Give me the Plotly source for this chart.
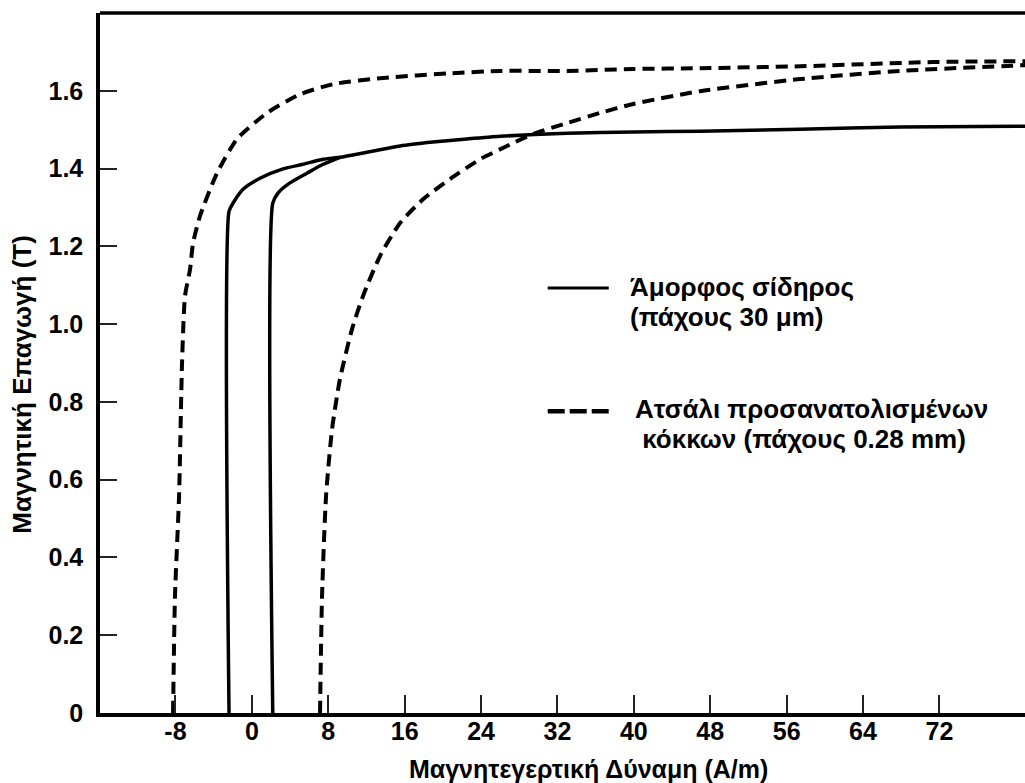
import plotly.graph_objects as go

# Amorphous iron (30 um): descending branch, shared saturation part, ascending branch
amorph_left_H = [-2.39, -2.39, -1.97, -0.92, 0.85, 3.27, 5.36, 7.46]
amorph_left_B = [0.0, 1.29, 1.311, 1.347, 1.375, 1.399, 1.411, 1.424]
amorph_sat_H = [9.23, 12.06, 15.52, 18.97, 22.53, 25.99, 33.01, 39.92, 46.93, 57.4, 67.87, 81.0]
amorph_sat_B = [1.429, 1.442, 1.458, 1.468, 1.476, 1.483, 1.491, 1.494, 1.496, 1.501, 1.507, 1.509]
amorph_right_H = [2.19, 2.19, 2.74, 3.99, 5.77, 7.46, 9.23]
amorph_right_B = [0.0, 1.311, 1.337, 1.363, 1.388, 1.411, 1.429]

# Grain-oriented steel (0.28 mm)
steel_left_H = [-8.25, -8.05, -7.62, -7.31, -7.0, -6.47, -6.16, -5.43, -3.65, -1.55, 1.59,
                5.05, 8.51, 13.74, 20.75, 25.99, 33.01, 39.92, 46.93, 57.4, 71.33, 81.0]
steel_left_B = [0.0, 0.30, 0.558, 0.90, 1.072, 1.141, 1.208, 1.278, 1.388, 1.476, 1.543,
                1.591, 1.617, 1.633, 1.645, 1.651, 1.651, 1.656, 1.658, 1.663, 1.674, 1.676]
steel_right_H = [7.14, 7.35, 7.77, 8.4, 9.23, 10.49, 11.64, 13.42, 15.52, 17.93, 20.75,
                 23.9, 26.72, 29.45, 33.01, 36.46, 39.92, 46.93, 57.4, 67.87, 81.0]
steel_right_B = [0.0, 0.30, 0.558, 0.73, 0.859, 0.987, 1.072, 1.175, 1.26, 1.321, 1.373,
                 1.424, 1.458, 1.489, 1.517, 1.543, 1.566, 1.599, 1.63, 1.651, 1.666]

x_ticks = [-8, 0, 8, 16, 24, 32, 40, 48, 56, 64, 72]
x_tick_text = ["-8", "0", "8", "16", "24", "32", "40", "48", "56", "64", "72"]
y_ticks = [0, 0.2, 0.4, 0.6, 0.8, 1.0, 1.2, 1.4, 1.6]
y_tick_text = ["0", "0.2", "0.4", "0.6", "0.8", "1.0", "1.2", "1.4", "1.6"]

legend_amorph = ["Άμορφος σίδηρος", "(πάχους 30 μm)"]
legend_steel = ["Ατσάλι προσανατολισμένων", " κόκκων (πάχους 0.28 mm)"]
x_title = "Μαγνητεγερτική Δύναμη (A/m)"
y_title = "Μαγνητική Επαγωγή (T)"

FONT = "Arial, Liberation Sans, sans-serif"
TICK_FONT = dict(family=FONT, size=25, color="black", weight="bold")
TITLE_FONT = dict(family=FONT, size=25, color="black", weight="bold")
YTITLE_FONT = dict(family=FONT, size=26, color="black", weight="bold")
LEGEND_FONT = dict(family=FONT, size=26, color="black", weight="bold")

fig = go.Figure()
fig.add_trace(go.Scatter(
    x=amorph_left_H + amorph_sat_H + [None] + amorph_right_H,
    y=amorph_left_B + amorph_sat_B + [None] + amorph_right_B,
    mode="lines", connectgaps=False,
    line=dict(color="black", width=3.5, shape="spline", smoothing=0.6),
    showlegend=False, hoverinfo="skip"))
fig.add_trace(go.Scatter(
    x=steel_left_H + [None] + steel_right_H,
    y=steel_left_B + [None] + steel_right_B,
    mode="lines", connectgaps=False,
    line=dict(color="black", width=4, dash="12px,7px", shape="spline", smoothing=0.6),
    showlegend=False, hoverinfo="skip"))

fig.update_xaxes(
    range=[-15.9, 80.96], tickmode="array", tickvals=x_ticks, ticktext=x_tick_text,
    ticks="inside", ticklen=18, tickwidth=2, tickcolor="#222",
    showline=True, linecolor="black", linewidth=3.5,
    showgrid=False, zeroline=False,
    tickfont=TICK_FONT, ticklabelstandoff=-7)
fig.update_yaxes(
    range=[0, 1.8], tickmode="array", tickvals=y_ticks, ticktext=y_tick_text,
    ticks="inside", ticklen=17, tickwidth=2, tickcolor="#222",
    showline=True, linecolor="black", linewidth=3.5,
    showgrid=False, zeroline=False,
    tickfont=TICK_FONT, ticklabelstandoff=8)

shapes = [
    # top frame line
    dict(type="line", xref="paper", yref="paper", x0=0, x1=1, y0=1, y1=1,
         line=dict(color="black", width=3.5)),
    # legend samples
    dict(type="line", xref="paper", yref="paper", x0=0.484, x1=0.550, y0=0.607, y1=0.607,
         line=dict(color="black", width=3)),
    dict(type="line", xref="paper", yref="paper", x0=0.484, x1=0.551, y0=0.431, y1=0.431,
         line=dict(color="black", width=4.5, dash="17px,5px")),
]

annotations = [
    dict(text=legend_amorph[0], xref="paper", yref="paper", x=0.571, y=0.609),
    dict(text=legend_amorph[1], xref="paper", yref="paper", x=0.571, y=0.566),
    dict(text=legend_steel[0], xref="paper", yref="paper", x=0.576, y=0.434),
    dict(text=legend_steel[1], xref="paper", yref="paper", x=0.576, y=0.391),
]
for a in annotations:
    a.update(xanchor="left", yanchor="middle", showarrow=False, font=LEGEND_FONT)

annotations.append(dict(text=x_title, xref="paper", yref="paper", x=0.528, y=-0.08,
                        xanchor="center", yanchor="middle", showarrow=False, font=TITLE_FONT))
annotations.append(dict(text=y_title, xref="paper", yref="paper", x=-0.0843, y=0.469,
                        xanchor="center", yanchor="middle", showarrow=False, textangle=-90,
                        font=YTITLE_FONT))

fig.update_layout(
    width=1025, height=783,
    margin=dict(l=100, r=0, t=13, b=70),
    plot_bgcolor="white", paper_bgcolor="white",
    shapes=shapes, annotations=annotations,
    showlegend=False)

fig.write_html("out.html")
